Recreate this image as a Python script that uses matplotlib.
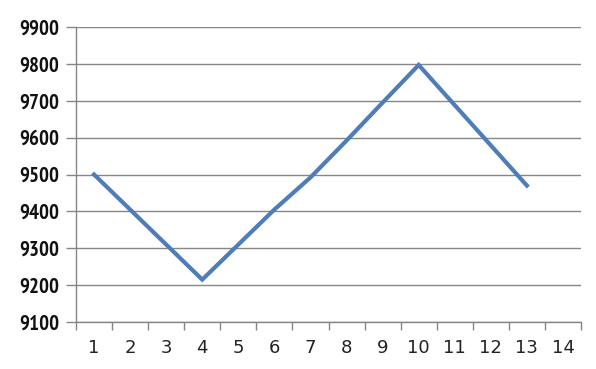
import matplotlib
matplotlib.use("Agg")
import matplotlib.pyplot as plt
from matplotlib import font_manager
from matplotlib.font_manager import FontProperties

categories = list(range(1, 15))
values = [9500, 9405, 9310, 9215, 9310, 9405, 9492, 9592, 9695, 9797, 9688, 9579, 9470]
yticks = [9100, 9200, 9300, 9400, 9500, 9600, 9700, 9800, 9900]

# look for a narrow bold face for the y labels
yprop = FontProperties(family="DejaVu Sans", weight="bold", size=14)
for f in font_manager.fontManager.ttflist:
    p = f.fname.lower()
    if ("narrow" in p and "bold" in p and "italic" not in p) :
        yprop = FontProperties(fname=f.fname, size=15)
        break
else:
    for f in font_manager.fontManager.ttflist:
        p = f.fname.lower()
        if "condensed" in p and "bold" in p and "oblique" not in p and "italic" not in p:
            yprop = FontProperties(fname=f.fname, size=14.5)
            break

fig = plt.figure(figsize=(5.96, 3.69), dpi=100)
ax = fig.add_axes([76 / 596, 1 - 322 / 369, 505 / 596, 295 / 369])

ax.plot(categories[:len(values)], values, color="#4F7DB8", linewidth=3.0,
        solid_joinstyle="miter", zorder=3)

ax.set_xlim(0.5, 14.5)
ax.set_ylim(9100, 9900)
ax.set_yticks(yticks)
ax.set_yticklabels([str(v) for v in yticks], fontproperties=yprop, color="#111111")
ax.set_xticks(categories)
ax.set_xticklabels([str(c) for c in categories], fontsize=13, color="#222222")
ax.set_xticks([c + 0.5 for c in range(0, 15)], minor=True)
ax.tick_params(axis="x", which="major", length=0, pad=12)
ax.tick_params(axis="x", which="minor", length=6, color="#868686", width=1)
ax.tick_params(axis="y", length=7, color="#868686", width=1, pad=5)

ax.grid(axis="y", color="#868686", linewidth=1)
ax.set_axisbelow(True)
for s in ["top", "right"]:
    ax.spines[s].set_visible(False)
for s in ["left", "bottom"]:
    ax.spines[s].set_color("#868686")
    ax.spines[s].set_linewidth(1)

fig.savefig("out.png", dpi=100)
